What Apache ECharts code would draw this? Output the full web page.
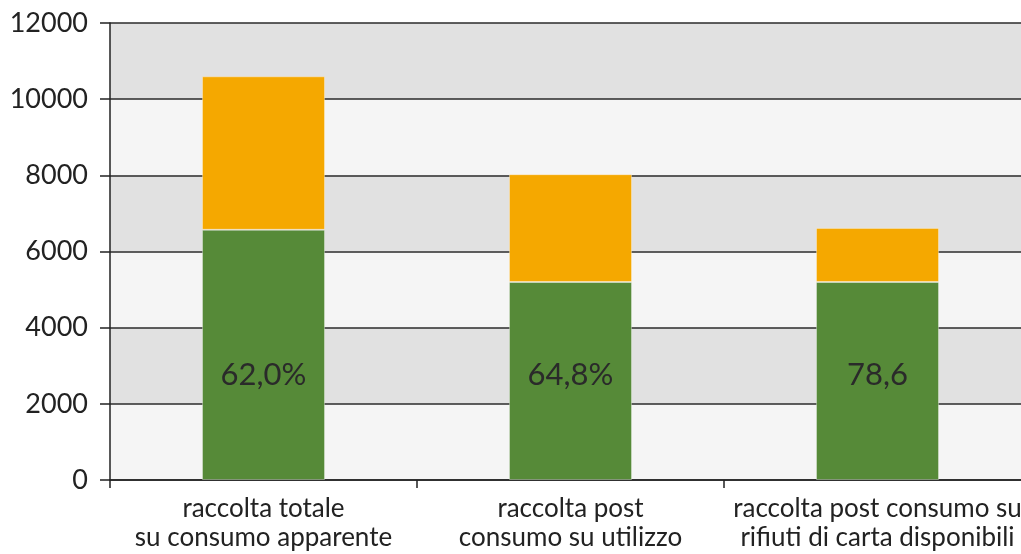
<!DOCTYPE html>
<html>
<head>
<meta charset="utf-8">
<script src="https://cdn.jsdelivr.net/npm/echarts@6/dist/echarts.min.js"></script>
<style>
  html, body { margin: 0; padding: 0; background: #ffffff; }
  #chart { width: 1021px; height: 554px; }
</style>
</head>
<body>
<div id="chart"></div>
<script>
// Categories (two-line labels)
const categories = [
  'raccolta totale\nsu consumo apparente',
  'raccolta post\nconsumo su utilizzo',
  'raccolta post consumo su\nrifiuti di carta disponibili'
];
// Lower (green) segment of each bar
const raccoltaValues = [6570, 5200, 5200];
// Upper (orange) segment stacked on top
const restoValues = [4030, 2830, 1420];
// Percent labels written inside the green segment
const percentLabels = ['62,0%', '64,8%', '78,6'];
// Y axis ticks
const yMin = 0, yMax = 12000, yStep = 2000;

const FONT = 'Lato, "DejaVu Sans", sans-serif';
const chart = echarts.init(document.getElementById('chart'), null, { renderer: 'canvas' });

chart.setOption({
  animation: false,
  backgroundColor: '#ffffff',
  // plot area runs slightly past the right edge of the canvas
  grid: { left: 110, width: 921, top: 23, bottom: 74, outerBoundsMode: 'none', containLabel: false },
  xAxis: {
    type: 'category',
    data: categories,
    axisLine: { show: true, lineStyle: { color: '#222222', width: 1.5 } },
    axisTick: { show: true, length: 8, alignWithLabel: false, lineStyle: { color: '#222222', width: 1.5 } },
    axisLabel: {
      color: '#222222', fontFamily: FONT, fontSize: 26, lineHeight: 29, margin: 14,
      interval: 0
    },
    splitLine: { show: false }
  },
  yAxis: {
    type: 'value',
    min: yMin, max: yMax, interval: yStep,
    axisLine: { show: true, lineStyle: { color: '#222222', width: 1.5 } },
    axisTick: { show: true, length: 10, lineStyle: { color: '#222222', width: 1.5 } },
    axisLabel: {
      color: '#222222', fontFamily: FONT, fontSize: 27, margin: 22,
      formatter: v => String(v)
    },
    splitLine: { show: true, lineStyle: { color: '#2a2a2a', width: 1.5 } },
    splitArea: { show: true, areaStyle: { color: ['#f5f5f5', '#e1e1e1'] } }
  },
  series: [
    {
      name: 'raccolta',
      type: 'bar',
      stack: 'tot',
      barWidth: 123,
      data: raccoltaValues,
      itemStyle: { color: '#568a38', borderColor: 'rgba(255,255,255,0.35)', borderWidth: 1 },
      label: {
        show: true,
        position: 'insideBottom',
        distance: 90,
        color: '#2a2a2a',
        fontFamily: FONT,
        fontSize: 31,
        formatter: p => percentLabels[p.dataIndex]
      }
    },
    {
      name: 'resto',
      type: 'bar',
      stack: 'tot',
      barWidth: 123,
      data: restoValues,
      itemStyle: { color: '#f5a800', borderColor: 'rgba(255,255,255,0.35)', borderWidth: 1 }
    }
  ]
});
</script>
</body>
</html>
